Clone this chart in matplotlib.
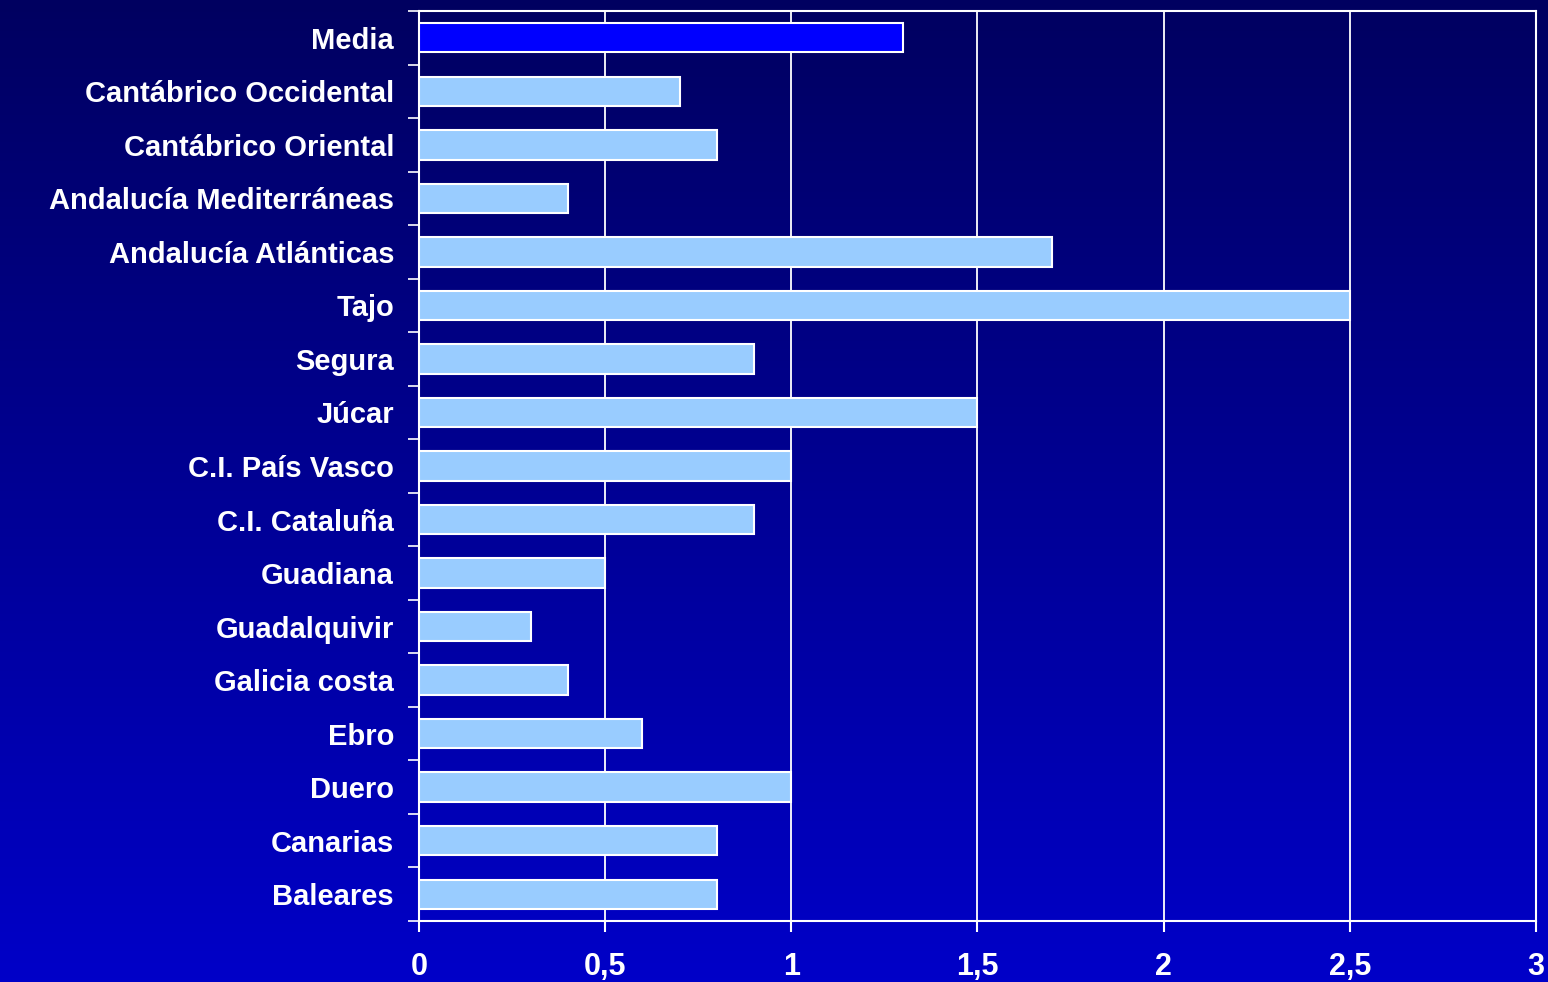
import numpy as np
import matplotlib.pyplot as plt
from matplotlib.colors import LinearSegmentedColormap

# cuencas, de arriba a abajo
cuencas = ['Media', 'Cantábrico Occidental', 'Cantábrico Oriental',
           'Andalucía Mediterráneas', 'Andalucía Atlánticas', 'Tajo', 'Segura',
           'Júcar', 'C.I. País Vasco', 'C.I. Cataluña', 'Guadiana',
           'Guadalquivir', 'Galicia costa', 'Ebro', 'Duero', 'Canarias',
           'Baleares']
valores = [1.3, 0.7, 0.8, 0.4, 1.7, 2.5, 0.9, 1.5, 1.0, 0.9, 0.5, 0.3, 0.4,
           0.6, 1.0, 0.8, 0.8]
xticks = [0, 0.5, 1, 1.5, 2, 2.5, 3]
xlabels = ['0', '0,5', '1', '1,5', '2', '2,5', '3']

plt.rcParams['font.family'] = ['Liberation Sans', 'DejaVu Sans']

fig = plt.figure(figsize=(15.48, 9.82), dpi=100)

# fondo degradado
bg = fig.add_axes([0, 0, 1, 1], zorder=-1)
cmap = LinearSegmentedColormap.from_list('bg', ['#000060', '#0000c8'])
bg.imshow(np.linspace(0, 1, 256).reshape(-1, 1), aspect='auto', cmap=cmap,
          extent=[0, 1, 0, 1], origin='upper')
bg.axis('off')

ax = fig.add_axes([0.2707, 0.0621, 0.9922 - 0.2707, 0.9888 - 0.0621])
ax.set_facecolor('none')

n = len(cuencas)
ypos = np.arange(n)[::-1]
colores = ['#0000ff'] + ['#99ccff'] * (n - 1)
ax.barh(ypos, valores, height=0.55, color=colores, edgecolor='white',
        linewidth=1.5, zorder=3)

ax.set_xlim(0, 3)
ax.set_ylim(-0.5, n - 0.5)
ax.set_xticks(xticks)
ax.set_xticklabels(xlabels, fontsize=22, fontweight='bold', color='white')
ax.tick_params(axis='x', direction='out', length=8, width=1.5,
               color='white', pad=14)
ax.set_yticks(ypos)
ax.set_yticklabels(cuencas, fontsize=21, fontweight='bold', color='white')
ax.tick_params(axis='y', which='major', length=0, pad=18)
ax.set_yticks(np.arange(n + 1) - 0.5, minor=True)
ax.tick_params(axis='y', which='minor', direction='out', length=8,
               width=1.2, color='white')

ax.grid(axis='x', color='white', linewidth=1.3, zorder=1)
for s in ax.spines.values():
    s.set_color('white')
    s.set_linewidth(1.5)

plt.savefig('out.png')
